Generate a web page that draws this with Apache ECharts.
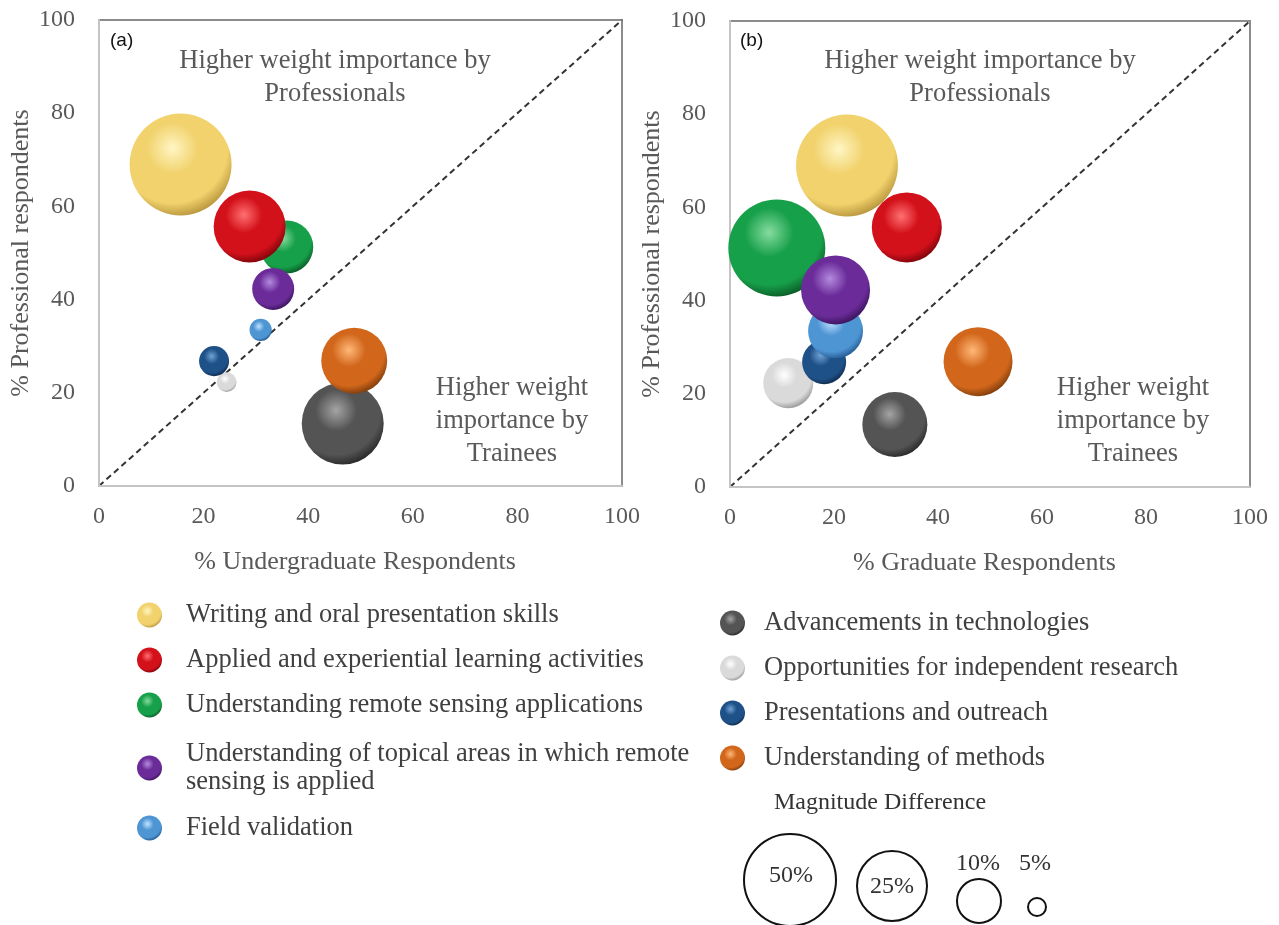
<!DOCTYPE html>
<html>
<head>
<meta charset="utf-8">
<title>Weight importance bubbles</title>
<script src="https://cdn.jsdelivr.net/npm/echarts@6/dist/echarts.min.js"></script>
<style>
  html, body { margin: 0; padding: 0; background: #fff; }
  #chart { width: 1279px; height: 925px; }
</style>
</head>
<body>
<div id="chart"></div>
<script>
// categories (legend order: left column then right column)
const skills = [
  'Writing and oral presentation skills',
  'Applied and experiential learning activities',
  'Understanding remote sensing applications',
  'Understanding of topical areas in which remote\nsensing is applied',
  'Field validation',
  'Advancements in technologies',
  'Opportunities for independent research',
  'Presentations and outreach',
  'Understanding of methods'
];

// % professional respondents (y, same in both panels)
const professional = [69.0, 55.7, 51.3, 42.3, 33.5, 13.4, 22.3, 26.8, 26.9];
// % undergraduate respondents (x, panel a)
const undergraduate = [15.6, 28.8, 35.9, 33.3, 30.9, 46.6, 24.4, 22.0, 48.8];
// % graduate respondents (x, panel b)
const graduate = [22.5, 34.0, 9.0, 20.3, 20.3, 31.7, 11.2, 18.1, 47.7];
// magnitude difference -> bubble area
const diffUndergrad = [53, 26.4, 14.3, 9, 2.5, 34.3, 2.0, 4.6, 22.2];
const diffGrad = [53, 25, 48, 24.3, 15.4, 21.6, 12.8, 9.9, 24.3];

const axisTicks = [0, 20, 40, 60, 80, 100];

// light / base / dark for the sphere look
const sphereColors = [
  ['#fff6c4', '#f1d26c', '#a98530'],
  ['#ff7070', '#d3111b', '#650007'],
  ['#86dc9e', '#17a04a', '#07481d'],
  ['#b48ade', '#6b2c9a', '#2c0d4a'],
  ['#bfe2ff', '#4e95d4', '#184a80'],
  ['#a4a4a4', '#545454', '#1c1c1c'],
  ['#ffffff', '#dadada', '#858585'],
  ['#70a2d4', '#1f5189', '#0a223c'],
  ['#ffb878', '#d2671c', '#663006']
];
// draw order back -> front
const zOrder = [8, 7, 5, 6, 4, 1, 2, 3, 9];

const serif = '"Liberation Serif", "Times New Roman", serif';
const grey = '#595959';

function sphere(i) {
  const c = sphereColors[i];
  return {
    type: 'radial', x: 0.42, y: 0.34, r: 0.72,
    colorStops: [
      { offset: 0, color: c[0] },
      { offset: 0.35, color: c[1] },
      { offset: 0.75, color: c[1] },
      { offset: 1, color: c[2] }
    ]
  };
}

function makeX(idx, name) {
  return {
    gridIndex: idx, type: 'value', min: axisTicks[0], max: axisTicks[axisTicks.length - 1], interval: 20,
    name: name, nameLocation: 'middle', nameGap: 63,
    nameTextStyle: { color: grey, fontFamily: serif, fontSize: 26, padding: [0, 11, 0, 0] },
    axisLine: { lineStyle: { color: '#c4c4c4', width: 2 } },
    axisTick: { show: false },
    splitLine: { show: false },
    axisLabel: { margin: 19, color: grey, fontFamily: serif, fontSize: 24, showMinLabel: true, showMaxLabel: true },
    z: 3
  };
}
function makeY(idx) {
  return {
    gridIndex: idx, type: 'value', min: axisTicks[0], max: axisTicks[axisTicks.length - 1], interval: 20,
    name: '% Professional respondents', nameLocation: 'middle', nameGap: 65,
    nameTextStyle: { color: grey, fontFamily: serif, fontSize: 26 },
    axisLine: { lineStyle: { color: '#c4c4c4', width: 2 } },
    axisTick: { show: false },
    splitLine: { show: false },
    axisLabel: { margin: 24, color: grey, fontFamily: serif, fontSize: 24, showMinLabel: true, showMaxLabel: true },
    z: 3
  };
}

const series = [];
[undergraduate, graduate].forEach(function (xs, g) {
  const diffs = g === 0 ? diffUndergrad : diffGrad;
  series.push({
    type: 'line', xAxisIndex: g, yAxisIndex: g, z: 1,
    data: [[axisTicks[0], axisTicks[0]], [axisTicks[5], axisTicks[5]]],
    symbol: 'none', silent: true,
    lineStyle: { color: '#333', width: 2, type: [6, 4] }
  });
  skills.forEach(function (name, i) {
    series.push({
      name: name, type: 'scatter', xAxisIndex: g, yAxisIndex: g,
      z: 2 + zOrder[i],
      data: [[xs[i], professional[i], diffs[i]]],
      symbolSize: function (d) { return 14 * Math.sqrt(d[2]); },
      itemStyle: { color: sphere(i), opacity: 1 },
      emphasis: { disabled: true }
    });
  });
});

const legendBase = {
  orient: 'vertical', icon: 'circle', itemWidth: 27, itemHeight: 25,
  selectedMode: false,
  textStyle: { color: '#404040', fontFamily: serif, fontSize: 26.5, lineHeight: 28, padding: [0, 0, 0, 18] }
};

function txt(x, y, text, extra) {
  return Object.assign({
    type: 'text', x: x, y: y, silent: true,
    style: { text: text, fill: grey, font: '26.5px ' + serif, align: 'center', verticalAlign: 'middle', lineHeight: 33 }
  }, extra || {});
}
function keyCircle(cx, cy, r) {
  return { type: 'circle', silent: true, shape: { cx: cx, cy: cy, r: r }, style: { fill: 'none', stroke: '#111', lineWidth: 2 } };
}
function keyText(x, y, t) {
  return { type: 'text', x: x, y: y, silent: true, style: { text: t, fill: '#333', font: '24px ' + serif, align: 'center', verticalAlign: 'middle' } };
}

const myChart = echarts.init(document.getElementById('chart'));
myChart.setOption({
  backgroundColor: '#fff',
  animation: false,
  grid: [
    { left: 99, top: 20, width: 523, height: 466, show: true, borderColor: '#8c8c8c', borderWidth: 2, z: 0 },
    { left: 730, top: 21, width: 520, height: 466, show: true, borderColor: '#8c8c8c', borderWidth: 2, z: 0 }
  ],
  xAxis: [makeX(0, '% Undergraduate Respondents'), makeX(1, '% Graduate Respondents')],
  yAxis: [makeY(0), makeY(1)],
  legend: [
    Object.assign({}, legendBase, { data: skills.slice(0, 3), left: 132, top: 596, itemGap: 17 }),
    Object.assign({}, legendBase, { data: skills.slice(3, 5), left: 132, top: 735, itemGap: 18 }),
    Object.assign({}, legendBase, { data: skills.slice(5), left: 715, top: 604, itemGap: 17,
      textStyle: Object.assign({}, legendBase.textStyle, { padding: [0, 0, 0, 13] }) })
  ],
  graphic: [
    txt(335, 78, 'Higher weight importance by\nProfessionals'),
    txt(980, 78, 'Higher weight importance by\nProfessionals'),
    txt(512, 421, 'Higher weight\nimportance by\nTrainees'),
    txt(1133, 421, 'Higher weight\nimportance by\nTrainees'),
    { type: 'text', x: 110, y: 41, silent: true, style: { text: '(a)', fill: '#111', font: '19px "Liberation Sans", Arial, sans-serif', verticalAlign: 'middle' } },
    { type: 'text', x: 740, y: 41, silent: true, style: { text: '(b)', fill: '#111', font: '19px "Liberation Sans", Arial, sans-serif', verticalAlign: 'middle' } },
    keyText(880, 803, 'Magnitude Difference'),
    keyCircle(790, 880, 46), keyText(791, 876, '50%'),
    keyCircle(892, 886, 35), keyText(892, 887, '25%'),
    keyCircle(979, 901, 22), keyText(978, 864, '10%'),
    keyCircle(1037, 907, 9), keyText(1035, 864, '5%')
  ],
  series: series
});
</script>
</body>
</html>
